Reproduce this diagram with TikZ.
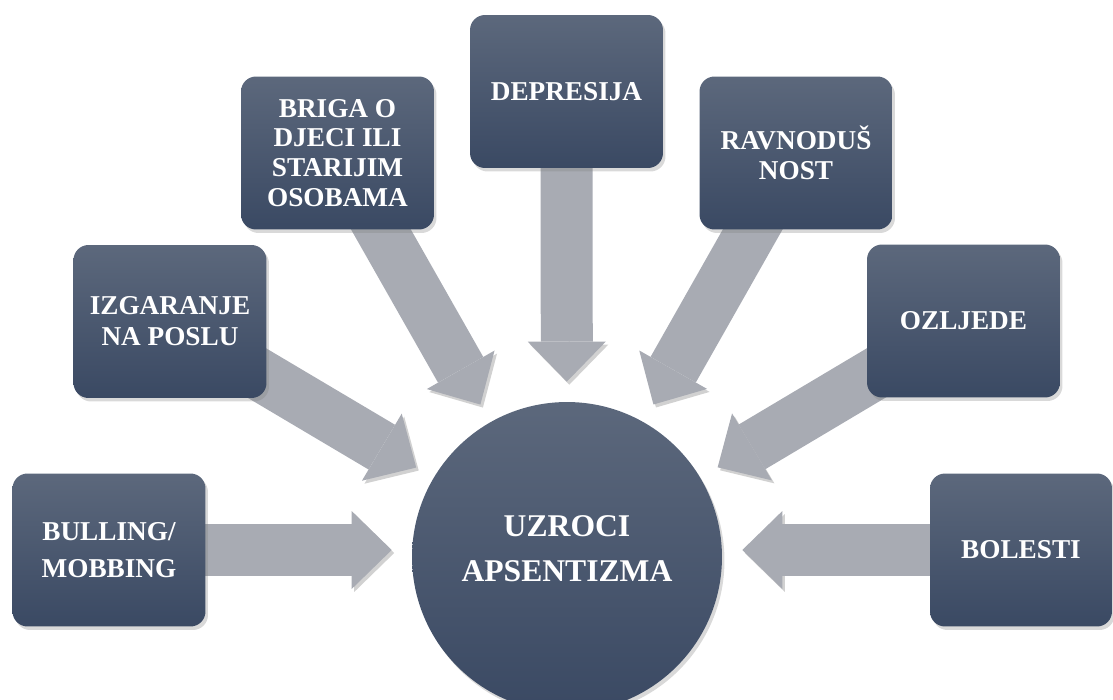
\documentclass[tikz,border=0pt]{standalone}
\usepackage{fontspec}
\setmainfont{Liberation Serif}
\usepackage{tikz}
\usetikzlibrary{positioning, backgrounds, shadows, arrows.meta}

\definecolor{boxtop}{RGB}{92,104,124}
\definecolor{boxbot}{RGB}{58,73,99}
\definecolor{arrowgray}{RGB}{168,171,179}

\begin{document}
\begin{tikzpicture}[x=0.02cm, y=-0.02cm,
  cause/.style={rectangle, rounded corners=0.3cm, minimum width=3.86cm,
    minimum height=3.06cm, top color=boxtop, bottom color=boxbot,
    text=white, align=center, font=\fontsize{15.5}{17}\selectfont\bfseries,
    drop shadow={shadow xshift=0.05cm, shadow yshift=-0.07cm, opacity=0.3}},
  hub/.style={circle, minimum size=6.2cm, top color=boxtop, bottom color=boxbot,
    text=white, align=center, font=\fontsize{18}{26}\selectfont\bfseries,
    drop shadow={shadow xshift=0.05cm, shadow yshift=-0.07cm, opacity=0.3}},
  feed/.style={draw=arrowgray, line width=1.04cm,
    -{Triangle[width=1.56cm, length=0.8cm, line width=0pt]}, shorten >=0.4cm,
    preaction={draw=black, opacity=0.18, transform canvas={xshift=0.05cm, yshift=-0.06cm}}}]

\useasboundingbox (0,0) rectangle (1113,700);

\node[hub, text depth=0.34cm] (uzroci) at (567,557) {UZROCI\\APSENTIZMA};

\node[cause, font=\fontsize{15.5}{21.5}\selectfont\bfseries] (bulling) at (109,550) {BULLING/\\MOBBING};
\node[cause, font=\fontsize{15.5}{17.6}\selectfont\bfseries] (izgaranje) at (170,321.5) {IZGARANJE\\NA POSLU};
\node[cause] (briga) at (337.5,153) {BRIGA O\\DJECI ILI\\STARIJIM\\OSOBAMA};
\node[cause] (depresija) at (566.5,91.5) {DEPRESIJA};
\node[cause] (ravnodusnost) at (796,153) {RAVNODUŠ\\NOST};
\node[cause] (ozljede) at (963.5,321) {OZLJEDE};
\node[cause, minimum width=3.64cm] (bolesti) at (1021,550) {BOLESTI};

% arrows behind the boxes
\begin{scope}[on background layer]
\draw[feed] (bulling.center) -- (bulling.center -| uzroci.west);
\draw[feed] (izgaranje.center) -- (uzroci);
\draw[feed] (briga.center) -- (uzroci);
\draw[feed] (depresija.center) -- (uzroci);
\draw[feed] (ravnodusnost.center) -- (uzroci);
\draw[feed] (ozljede.center) -- (uzroci);
\draw[feed] (bolesti.center) -- (bolesti.center -| uzroci.east);
\end{scope}
\end{tikzpicture}
\end{document}
